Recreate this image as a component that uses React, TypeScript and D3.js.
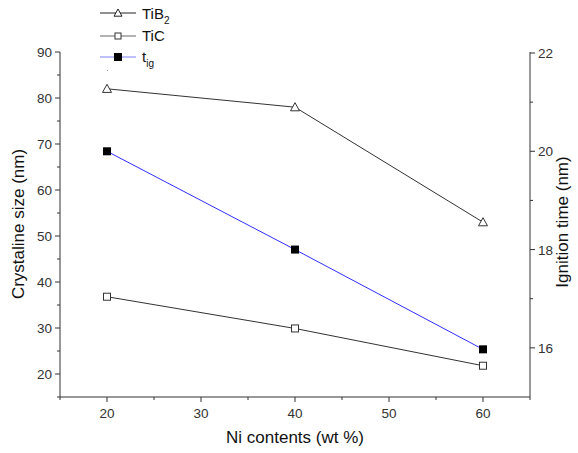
import React from "react";
import * as d3 from "d3";

const niContents = [20, 40, 60];
const tib2Size = [82, 78, 53];
const ticSize = [36.8, 29.9, 21.8];
const ignitionTime = [20, 18, 15.97];

const xTicks = [20, 30, 40, 50, 60];
const xMinor = [15, 25, 35, 45, 55, 65];
const yLeftTicks = [20, 30, 40, 50, 60, 70, 80, 90];
const yLeftMinor = [15, 25, 35, 45, 55, 65, 75, 85];
const yRightTicks = [16, 18, 20, 22];
const yRightMinor = [17, 19, 21];

const W = 578;
const H = 453;
const left = 60;
const right = 530;
const top = 52;
const bottom = 397;

const font = "Liberation Sans, Arial, sans-serif";
const labelColor = "#333";

export default function App() {
  const x = d3.scaleLinear().domain([15, 65]).range([left, right]);
  const yL = d3.scaleLinear().domain([15, 90]).range([bottom, top]);
  const yR = d3.scaleLinear().domain([15, 22]).range([bottom, top + 1]);

  const lineL = d3
    .line<number>()
    .x((_, i) => x(niContents[i]))
    .y((d) => yL(d));
  const lineR = d3
    .line<number>()
    .x((_, i) => x(niContents[i]))
    .y((d) => yR(d));

  const tri = (cx: number, cy: number, s = 4.5) =>
    `M${cx},${cy - s} L${cx + s},${cy + s * 0.8} L${cx - s},${cy + s * 0.8} Z`;

  return (
    <svg
      width={W}
      height={H}
      style={{ position: "absolute", left: 0, top: 0, background: "#fff" }}
      fontFamily={font}
    >
      <rect width={W} height={H} fill="#fff" />
      {/* axes */}
      <g stroke="#333" strokeWidth={1} fill="none">
        <line x1={left} y1={top} x2={left} y2={bottom} />
        <line x1={right} y1={top} x2={right} y2={bottom} />
        <line x1={left} y1={bottom} x2={right} y2={bottom} />
        {xTicks.map((t) => (
          <line key={"xt" + t} x1={x(t)} x2={x(t)} y1={bottom} y2={bottom + 5} />
        ))}
        {xMinor.map((t) => (
          <line key={"xm" + t} x1={x(t)} x2={x(t)} y1={bottom} y2={bottom + 3} />
        ))}
        {yLeftTicks.map((t) => (
          <line key={"yl" + t} x1={left - 5} x2={left} y1={yL(t)} y2={yL(t)} />
        ))}
        {yLeftMinor.map((t) => (
          <line key={"ylm" + t} x1={left - 3} x2={left} y1={yL(t)} y2={yL(t)} />
        ))}
        {yRightTicks.map((t) => (
          <line key={"yr" + t} x1={right} x2={right + 5} y1={yR(t)} y2={yR(t)} />
        ))}
        {yRightMinor.map((t) => (
          <line key={"yrm" + t} x1={right} x2={right + 3} y1={yR(t)} y2={yR(t)} />
        ))}
      </g>
      <g fontSize={13.5} fill={labelColor}>
        {xTicks.map((t) => (
          <text key={"xl" + t} x={x(t)} y={bottom + 21} textAnchor="middle">
            {t}
          </text>
        ))}
        {yLeftTicks.map((t) => (
          <text key={"yll" + t} x={left - 8} y={yL(t) + 5} textAnchor="end">
            {t}
          </text>
        ))}
        {yRightTicks.map((t) => (
          <text key={"yrl" + t} x={right + 8} y={yR(t) + 5} textAnchor="start">
            {t}
          </text>
        ))}
      </g>
      <g fontSize={17} fill="#111">
        <text x={295} y={443} textAnchor="middle">
          Ni contents (wt %)
        </text>
        <text transform="translate(24,224) rotate(-90)" textAnchor="middle">
          Crystaline size (nm)
        </text>
        <text transform="translate(568,222) rotate(-90)" textAnchor="middle">
          Ignition time (nm)
        </text>
      </g>
      {/* series */}
      <path d={lineL(tib2Size) || ""} fill="none" stroke="#333" strokeWidth={1} />
      <path d={lineL(ticSize) || ""} fill="none" stroke="#333" strokeWidth={1} />
      <path d={lineR(ignitionTime) || ""} fill="none" stroke="#3030ff" strokeWidth={1} />
      {tib2Size.map((v, i) => (
        <path key={"tb" + i} d={tri(x(niContents[i]), yL(v))} fill="#fff" stroke="#333" strokeWidth={1} />
      ))}
      {ticSize.map((v, i) => (
        <rect
          key={"tc" + i}
          x={x(niContents[i]) - 3.5}
          y={yL(v) - 3.5}
          width={7}
          height={7}
          fill="#fff"
          stroke="#333"
          strokeWidth={1}
        />
      ))}
      {ignitionTime.map((v, i) => (
        <rect
          key={"ig" + i}
          x={x(niContents[i]) - 4}
          y={yR(v) - 4}
          width={8}
          height={8}
          fill="#000"
        />
      ))}
      {/* legend */}
      <g>
        <line x1={100} x2={136} y1={13} y2={13} stroke="#222" />
        <path d={tri(118, 13, 4)} fill="#fff" stroke="#222" />
        <text x={142} y={19} fontSize={15} fill="#111">
          TiB<tspan fontSize={10} dy={5}>2</tspan>
        </text>
        <line x1={100} x2={136} y1={36} y2={36} stroke="#666" />
        <rect x={115} y={33} width={6} height={6} fill="#fff" stroke="#333" />
        <text x={142} y={41} fontSize={15} fill="#111">
          TiC
        </text>
        <line x1={100} x2={136} y1={57} y2={57} stroke="#8080ff" />
        <rect x={114} y={53} width={8} height={8} fill="#000" />
        <text x={142} y={62} fontSize={15} fill="#111">
          t<tspan fontSize={10} dy={5}>ig</tspan>
        </text>
        <rect x={107} y={70} width={1} height={1} fill="#999" />
      </g>
    </svg>
  );
}
